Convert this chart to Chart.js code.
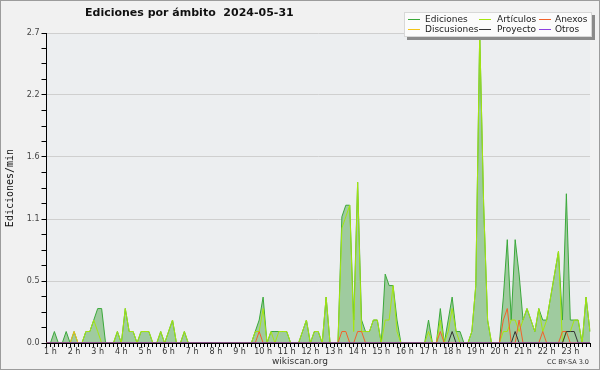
<!DOCTYPE html>
<html>
<head>
<meta charset="utf-8">
<script src="https://cdn.jsdelivr.net/npm/chart.js@4/dist/chart.umd.min.js"></script>
<style>
  html, body { margin: 0; padding: 0; background: #f1f1f1; }
  #wrap { position: relative; width: 600px; height: 370px; overflow: hidden; background: #f1f1f1; }
  #chart { position: absolute; left: 0; top: 0; }
  #frame { position: absolute; left: 0; top: 0; width: 600px; height: 370px; box-sizing: border-box;
           border: 1px solid #9c9c9c; pointer-events: none; }
  #title { position: absolute; left: 85px; top: 6px; font: bold 11px "DejaVu Sans", sans-serif;
           color: #111; white-space: pre; }
  #legend { position: absolute; left: 404px; top: 12px; width: 188px; height: 25px; box-sizing: border-box;
            background: #fbfbfb; border: 1px solid #d8d8d8; box-shadow: 3px 3px 0 #8a8a8a; }
  .item { position: absolute; font: 9px "DejaVu Sans", sans-serif; color: #222; line-height: 10px; white-space: nowrap; }
  .swatch { position: absolute; top: 5px; height: 1px; }
  #site { position: absolute; left: 0; width: 600px; top: 356px; text-align: center;
          font: 9px "DejaVu Sans", sans-serif; color: #333; }
  #licence { position: absolute; right: 11px; top: 358px; font: 6.5px "DejaVu Sans", sans-serif; color: #333; }
</style>
</head>
<body>
<div id="wrap">
  <canvas id="chart" width="600" height="370"></canvas>
  <div id="title">Ediciones por ámbito  2024-05-31</div>
  <div id="legend"></div>
  <div id="site">wikiscan.org</div>
  <div id="licence">CC BY-SA 3.0</div>
  <div id="frame"></div>
</div>
<script>
// franjas de 10 minutos, de 0:50 a 23:50
const slotCount = 139;
const slots = Array.from({ length: slotCount }, (_, i) => {
    const m = 50 + i * 10;
    return Math.floor(m / 60) + ':' + String(m % 60).padStart(2, '0');
});
const hourLabels = ['1 h', '2 h', '3 h', '4 h', '5 h', '6 h', '7 h', '8 h', '9 h', '10 h', '11 h', '12 h',
    '13 h', '14 h', '15 h', '16 h', '17 h', '18 h', '19 h', '20 h', '21 h', '22 h', '23 h'];

const yMax = 2.7;
const yTickLabels = ['0.0', '0.5', '1.1', '1.6', '2.2', '2.7'];

const seriesNames = ['Ediciones', 'Artículos', 'Anexos', 'Discusiones', 'Proyecto', 'Otros'];
const seriesColors = ['#3aa83a', '#a6e610', '#f2622a', '#f3c417', '#333333', '#8d3fe0'];

// ediciones por minuto, una fila = 2 horas
const ediciones = [
    0, 0, 0.1, 0, 0, 0.1, 0, 0.1, 0, 0, 0.1, 0.1,
    0.2, 0.3, 0.3, 0, 0, 0, 0.1, 0, 0.3, 0.1, 0.1, 0,
    0.1, 0.1, 0.1, 0, 0, 0.1, 0, 0.1, 0.2, 0, 0, 0.1,
    0, 0, 0, 0, 0, 0, 0, 0, 0, 0, 0, 0,
    0, 0, 0, 0, 0, 0.1, 0.2, 0.4, 0, 0.1, 0.1, 0.1,
    0.1, 0.1, 0, 0, 0, 0.1, 0.2, 0, 0.1, 0.1, 0, 0.4,
    0, 0, 0, 1.1, 1.2, 1.2, 0.2, 1.4, 0.2, 0.1, 0.1, 0.2,
    0.2, 0, 0.6, 0.5, 0.5, 0.2, 0, 0, 0, 0, 0, 0,
    0, 0.2, 0, 0, 0.3, 0, 0.2, 0.4, 0.1, 0.1, 0, 0,
    0.1, 0.5, 2.7, 1.2, 0.2, 0, 0, 0, 0.4, 0.9, 0.2, 0.9,
    0.6, 0.2, 0.3, 0.2, 0.1, 0.3, 0.2, 0.2, 0.4, 0.6, 0.8, 0.2,
    1.3, 0.2, 0.2, 0.2, 0, 0.4, 0.1
];
const articulos = [
    0, 0, 0, 0, 0, 0, 0, 0, 0, 0, 0.1, 0.1,
    0.2, 0.1, 0, 0, 0, 0, 0.1, 0, 0.3, 0.1, 0.1, 0,
    0.1, 0.1, 0.1, 0, 0, 0.1, 0, 0.1, 0.2, 0, 0, 0.1,
    0, 0, 0, 0, 0, 0, 0, 0, 0, 0, 0, 0,
    0, 0, 0, 0, 0, 0.1, 0.1, 0.3, 0, 0.1, 0, 0.1,
    0.1, 0.1, 0, 0, 0, 0.1, 0.2, 0, 0.1, 0.1, 0, 0.4,
    0, 0, 0, 1.0, 1.1, 1.2, 0.1, 1.4, 0.1, 0.1, 0.1, 0.2,
    0.2, 0, 0.2, 0.2, 0.5, 0.1, 0, 0, 0, 0, 0, 0,
    0, 0.1, 0, 0, 0.2, 0, 0.1, 0.3, 0.1, 0, 0, 0,
    0.1, 0.5, 2.7, 1.2, 0.2, 0, 0, 0, 0.1, 0.1, 0.2, 0.2,
    0.1, 0.2, 0.3, 0.2, 0.1, 0.3, 0.1, 0.2, 0.4, 0.6, 0.8, 0,
    0.1, 0.1, 0.2, 0.2, 0, 0.4, 0.1
];
const anexos = [
    0, 0, 0, 0, 0, 0, 0, 0, 0, 0, 0, 0,
    0, 0, 0, 0, 0, 0, 0, 0, 0, 0, 0, 0,
    0, 0, 0, 0, 0, 0, 0, 0, 0, 0, 0, 0,
    0, 0, 0, 0, 0, 0, 0, 0, 0, 0, 0, 0,
    0, 0, 0, 0, 0, 0, 0.1, 0, 0, 0, 0, 0,
    0, 0, 0, 0, 0, 0, 0, 0, 0, 0, 0, 0,
    0, 0, 0, 0.1, 0.1, 0, 0, 0.1, 0.1, 0, 0, 0,
    0, 0, 0, 0, 0, 0, 0, 0, 0, 0, 0, 0,
    0, 0, 0, 0, 0.1, 0, 0, 0, 0, 0, 0, 0,
    0, 0, 0, 0, 0, 0, 0, 0, 0.2, 0.3, 0, 0,
    0.2, 0, 0, 0, 0, 0, 0.1, 0, 0, 0, 0, 0.1,
    0.1, 0, 0, 0, 0, 0, 0
];
const discusiones = [
    0, 0, 0, 0, 0, 0, 0, 0.1, 0, 0, 0, 0,
    0, 0, 0, 0, 0, 0, 0, 0, 0, 0, 0, 0,
    0, 0, 0, 0, 0, 0, 0, 0, 0, 0, 0, 0,
    0, 0, 0, 0, 0, 0, 0, 0, 0, 0, 0, 0,
    0, 0, 0, 0, 0, 0, 0, 0, 0, 0, 0, 0,
    0, 0, 0, 0, 0, 0, 0, 0, 0, 0, 0, 0,
    0, 0, 0, 0, 0, 0, 0, 0, 0, 0, 0, 0,
    0, 0, 0, 0, 0, 0, 0, 0, 0, 0, 0, 0,
    0, 0, 0, 0, 0, 0, 0, 0, 0, 0, 0, 0,
    0, 0, 0, 0, 0, 0, 0, 0, 0, 0, 0, 0,
    0, 0, 0, 0, 0, 0, 0, 0, 0, 0, 0, 0,
    0, 0, 0, 0, 0, 0, 0
];
const proyecto = [
    0, 0, 0, 0, 0, 0, 0, 0, 0, 0, 0, 0,
    0, 0, 0, 0, 0, 0, 0, 0, 0, 0, 0, 0,
    0, 0, 0, 0, 0, 0, 0, 0, 0, 0, 0, 0,
    0, 0, 0, 0, 0, 0, 0, 0, 0, 0, 0, 0,
    0, 0, 0, 0, 0, 0, 0, 0, 0, 0, 0, 0,
    0, 0, 0, 0, 0, 0, 0, 0, 0, 0, 0, 0,
    0, 0, 0, 0, 0, 0, 0, 0, 0, 0, 0, 0,
    0, 0, 0, 0, 0, 0, 0, 0, 0, 0, 0, 0,
    0, 0, 0, 0, 0, 0, 0, 0.1, 0, 0, 0, 0,
    0, 0, 0, 0, 0, 0, 0, 0, 0, 0, 0, 0.1,
    0, 0, 0, 0, 0, 0, 0, 0, 0, 0, 0, 0,
    0.1, 0.1, 0.1, 0, 0, 0, 0
];
const otros = new Array(slotCount).fill(0);

// marcas del eje Y: 5 divisiones principales, 4 secundarias en cada una
const yTicks = [];
for (let i = 0; i <= 20; i++) yTicks.push(yMax * i / 20);

const seriesData = [ediciones, articulos, anexos, discusiones, proyecto, otros];
const drawOrder = [6, 5, 3, 4, 2, 1];

const datasets = seriesNames.map((name, k) => ({
    label: name,
    data: seriesData[k],
    borderColor: seriesColors[k],
    borderWidth: 1,
    backgroundColor: k === 0 ? '#9fcb9f' : 'transparent',
    fill: k === 0 ? 'origin' : false,
    pointRadius: 0,
    tension: 0,
    order: drawOrder[k]
}));

// fondo del área del gráfico
const plotBackground = {
    id: 'plotBackground',
    beforeDraw(chart) {
        const a = chart.chartArea;
        const c = chart.ctx;
        c.save();
        c.fillStyle = '#eceef0';
        c.fillRect(a.left, a.top, a.right - a.left, a.bottom - a.top);
        c.restore();
    }
};

const tickFont = { family: 'DejaVu Sans', size: 8 };

new Chart(document.getElementById('chart').getContext('2d'), {
    type: 'line',
    data: { labels: slots, datasets },
    options: {
        responsive: false,
        animation: false,
        layout: { padding: { top: 33, right: 10, left: 0, bottom: 0 } },
        plugins: { legend: { display: false }, tooltip: { enabled: false } },
        scales: {
            x: {
                type: 'category',
                z: 1,
                grid: { drawOnChartArea: false, tickLength: 4, tickColor: '#000' },
                border: { color: '#000', width: 1 },
                ticks: {
                    autoSkip: false, maxRotation: 0, minRotation: 0, padding: 0,
                    font: tickFont, color: '#333',
                    // etiqueta centrada en cada hora en punto
                    callback: (v, i) => (i % 6 === 1 && (i - 1) / 6 < hourLabels.length) ? hourLabels[(i - 1) / 6] : ''
                },
                afterFit: s => { s.height = 27; }
            },
            y: {
                min: 0,
                max: yMax,
                afterBuildTicks: s => { s.ticks = yTicks.map(v => ({ value: v })); },
                grid: {
                    color: c => (c.index % 4 === 0 && c.index > 0) ? '#cfcfcf' : 'rgba(0,0,0,0)',
                    tickColor: '#000', tickLength: 5
                },
                border: { color: '#000', width: 1 },
                ticks: {
                    font: tickFont, color: '#444', padding: 2,
                    callback: (v, i) => i % 4 === 0 ? yTickLabels[i / 4] : ''
                },
                title: {
                    display: true, text: 'Ediciones/min', color: '#111',
                    font: { family: 'DejaVu Sans Mono', size: 10 },
                    padding: { top: 4, bottom: 0 }
                },
                afterFit: s => { s.width = 46.5; }
            }
        }
    },
    plugins: [plotBackground]
});

// leyenda en recuadro, 3 columnas x 2 filas
const legendCols = [{ line: 3, text: 20 }, { line: 74, text: 92 }, { line: 134, text: 150 }];
const legend = document.getElementById('legend');
seriesNames.forEach((name, k) => {
    const col = legendCols[k % 3];
    const row = Math.floor(k / 3);
    const sw = document.createElement('div');
    sw.className = 'swatch';
    sw.style.left = col.line + 'px';
    sw.style.width = '12px';
    sw.style.top = (row * 10 + 6) + 'px';
    sw.style.background = seriesColors[k];
    legend.appendChild(sw);
    const it = document.createElement('div');
    it.className = 'item';
    it.style.left = col.text + 'px';
    it.style.top = (row * 10 + 1) + 'px';
    it.textContent = name;
    legend.appendChild(it);
});
</script>
</body>
</html>
